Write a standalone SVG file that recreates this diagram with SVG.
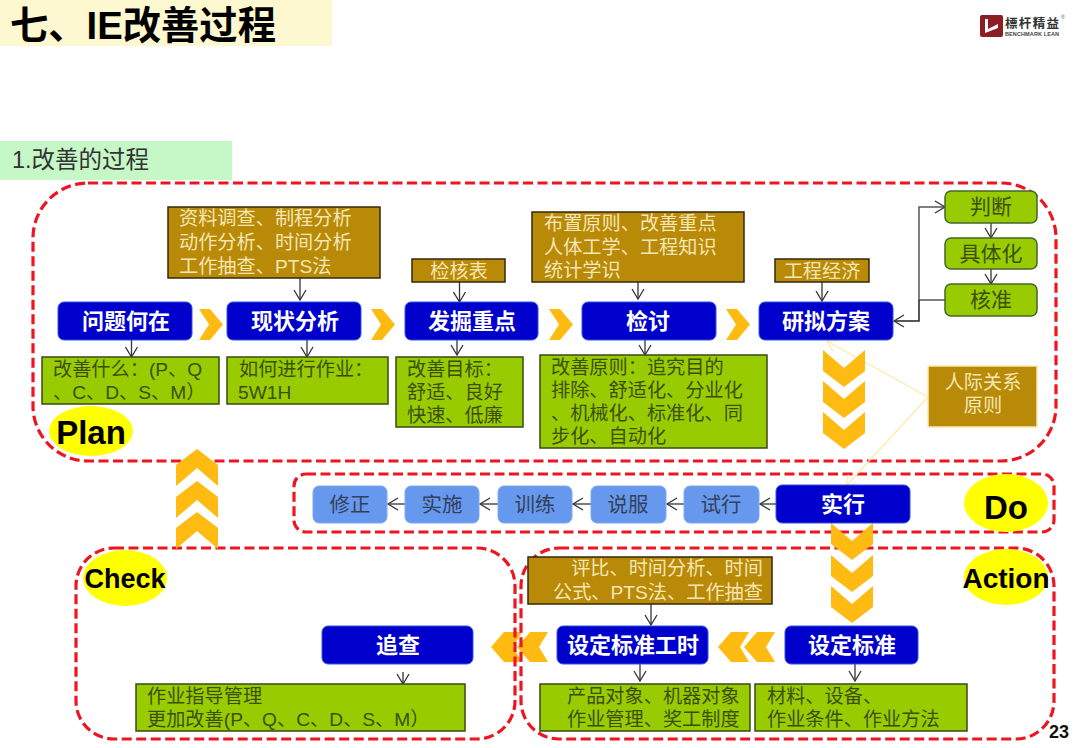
<svg xmlns="http://www.w3.org/2000/svg" xmlns:xlink="http://www.w3.org/1999/xlink" width="1080" height="748" viewBox="0 0 1080 748">
<style>
text{font-family:"Liberation Sans","Noto Sans CJK SC",sans-serif}
.region{fill:none;stroke:#ee1420;stroke-width:3.2;stroke-dasharray:10 4.500}
.blue{fill:#0000cc;stroke:#3355dd;stroke-width:1}
.light{fill:#6699ee;stroke:#7fa8f0;stroke-width:1}
.green{fill:#99cc00;stroke:#3a4a10;stroke-width:1.5}
.greenr{fill:#99cc00;stroke:#46662a;stroke-width:1.5}
.brown{fill:#b88a08;stroke:#33290a;stroke-width:1.5}
.brownp{fill:#b88a08;stroke:#ffe9a8;stroke-width:1.5}
.oval{fill:#ffff00}
.chev{fill:#ffbb11}
.w{fill:#fff;font-size:22px;font-weight:700;text-anchor:middle}
.g{fill:#3c4f05;font-size:19.2px}
.gm{fill:#3c4f05;font-size:21px;text-anchor:middle}
.b{fill:#f5e6b4;font-size:19.2px}
.bm{fill:#f5e6b4;font-size:19.2px;text-anchor:middle}
.lt{fill:#33415c;font-size:20.5px;text-anchor:middle}
.big{fill:#000;font-weight:700;text-anchor:middle}
.c{fill:none;stroke:#333;stroke-width:1.3}
.p{fill:none;stroke:#ffe9a8;stroke-width:1.2}
</style>
<defs>
<marker id="a" markerUnits="userSpaceOnUse" markerWidth="14" markerHeight="14" refX="12" refY="7" orient="auto"><path d="M2 1L12 7L2 13" fill="none" stroke="#333" stroke-width="1.3"/></marker>
<marker id="ap" markerUnits="userSpaceOnUse" markerWidth="14" markerHeight="14" refX="12" refY="7" orient="auto"><path d="M2 1L12 7L2 13" fill="none" stroke="#ffe9a8" stroke-width="1.2"/></marker>
<polygon id="chR" class="chev" points="0,0 11,0 24,15.5 11,31 0,31 10,15.5"/>
<polygon id="chD" class="chev" points="0,0 21,18 42,0 42,21 21,37 0,21"/>
<polygon id="chU" class="chev" points="21,0 42,16 42,37 21,19 0,37 0,16"/>
<polygon id="chL" class="chev" points="13,0 31,0 22,15 31,30 13,30 0,15"/>
</defs>
<rect width="1080" height="748" fill="#fff"/>

<g id="header">
<rect x="0" y="0" width="332" height="46" fill="#fdf8cf"/>
<text x="10" y="39" font-size="38.300" font-weight="700" fill="#000">七、IE改善过程</text>
<rect x="0" y="141" width="232" height="39" fill="#c6f7c6"/>
<text x="12" y="168" font-size="23.500" fill="#333">1.改善的过程</text>
</g>
<g id="logo">
<rect x="980" y="15" width="23" height="22" rx="2" fill="#8b1f24"/>
<path d="M985 19h3v10l10-5v4l-13 5z" fill="#fff"/>
<text x="1005" y="28" font-size="12.500" font-weight="700" fill="#333" textLength="54">標杆精益</text>
<text x="1005" y="35.500" font-size="5.500" font-weight="700" fill="#444" textLength="54">BENCHMARK LEAN</text>
<text x="1061" y="19" font-size="5" fill="#555">®</text>
</g>

<g id="chevrons-back">
<use href="#chL" x="718" y="632"/><use href="#chL" x="744" y="632"/>
<use href="#chL" x="491" y="632"/><use href="#chL" x="517" y="632"/>
</g>

<g id="regions">
<rect class="region" x="33" y="183" width="1023" height="278" rx="55"/>
<rect class="region" x="294" y="474" width="760" height="58" rx="12"/>
<rect class="region" x="76" y="548" width="439" height="191" rx="38"/>
<rect class="region" x="521" y="548" width="533" height="191" rx="38"/>
</g>

<g id="chevrons">
<use href="#chR" x="199" y="309"/><use href="#chR" x="371" y="309"/><use href="#chR" x="549" y="309"/><use href="#chR" x="726" y="309"/>
<line class="p" x1="928" y1="397" x2="827" y2="341" marker-end="url(#ap)"/>
<use href="#chD" x="823" y="350"/><use href="#chD" x="823" y="381"/><use href="#chD" x="823" y="412"/>
<use href="#chD" x="831" y="523"/><use href="#chD" x="831" y="555"/><use href="#chD" x="831" y="586"/>
<use href="#chU" x="176" y="449"/><use href="#chU" x="176" y="481"/><use href="#chU" x="176" y="512"/>
</g>

<g id="connectors">
<line class="c" x1="131.500" y1="340" x2="131.500" y2="357" marker-end="url(#a)"/>
<line class="c" x1="307" y1="340" x2="307" y2="357" marker-end="url(#a)"/>
<line class="c" x1="300" y1="278" x2="300" y2="300" marker-end="url(#a)"/>
<line class="c" x1="459.500" y1="282" x2="459.500" y2="302" marker-end="url(#a)"/>
<line class="c" x1="457" y1="340" x2="457" y2="355" marker-end="url(#a)"/>
<line class="c" x1="638" y1="282" x2="638" y2="299" marker-end="url(#a)"/>
<line class="c" x1="645" y1="340" x2="645" y2="355" marker-end="url(#a)"/>
<line class="c" x1="822" y1="282" x2="822" y2="301" marker-end="url(#a)"/>
<line class="c" x1="991" y1="223" x2="991" y2="238" marker-end="url(#a)"/>
<line class="c" x1="991" y1="269" x2="991" y2="284" marker-end="url(#a)"/>
<path d="M945 300H919V207H945" fill="none" stroke="#555" stroke-width="1.500" marker-end="url(#a)"/>
<path d="M919 300V321H894" fill="none" stroke="#222" stroke-width="1.500" marker-end="url(#a)"/>
<line class="p" x1="928" y1="397" x2="846" y2="486" marker-end="url(#ap)"/>
<line class="c" x1="776" y1="504" x2="760" y2="504" marker-end="url(#a)"/>
<line class="c" x1="684" y1="504" x2="667" y2="504" marker-end="url(#a)"/>
<line class="c" x1="591" y1="504" x2="573" y2="504" marker-end="url(#a)"/>
<line class="c" x1="498" y1="504" x2="480" y2="504" marker-end="url(#a)"/>
<line class="c" x1="405" y1="504" x2="388" y2="504" marker-end="url(#a)"/>
<line class="c" x1="651" y1="604" x2="651" y2="625" marker-end="url(#a)"/>
<line class="c" x1="640" y1="664" x2="640" y2="681" marker-end="url(#a)"/>
<line class="c" x1="855" y1="664" x2="855" y2="681" marker-end="url(#a)"/>
<line class="c" x1="403" y1="672" x2="403" y2="684" marker-end="url(#a)"/>
</g>

<g id="n-wentihezai"><rect class="blue" x="58" y="302" width="134" height="38" rx="6"/><text class="w" x="126" y="329">问题何在</text></g>
<g id="n-xianzhuang"><rect class="blue" x="227" y="302" width="134" height="38" rx="6"/><text class="w" x="295" y="329">现状分析</text></g>
<g id="n-fajue"><rect class="blue" x="405" y="302" width="133" height="38" rx="6"/><text class="w" x="472" y="329">发掘重点</text></g>
<g id="n-jiantao"><rect class="blue" x="582" y="302" width="134" height="38" rx="6"/><text class="w" x="648" y="329">检讨</text></g>
<g id="n-yanni"><rect class="blue" x="759" y="302" width="134" height="38" rx="6"/><text class="w" x="826" y="329">研拟方案</text></g>

<g id="n-ziliao"><rect class="brown" x="168" y="207" width="212" height="71"/><text class="b" x="179" y="225">资料调查、制程分析</text><text class="b" x="179" y="249">动作分析、时间分析</text><text class="b" x="179" y="273">工作抽查、PTS法</text></g>
<g id="n-jianhe"><rect class="brown" x="412" y="259" width="93" height="23"/><text class="bm" x="459" y="278">检核表</text></g>
<g id="n-buzhi"><rect class="brown" x="532" y="212" width="212" height="70"/><text class="b" x="544" y="230">布置原则、改善重点</text><text class="b" x="544" y="254">人体工学、工程知识</text><text class="b" x="544" y="277">统计学识</text></g>
<g id="n-gongcheng"><rect class="brown" x="775" y="259" width="94" height="23"/><text class="bm" x="822" y="278">工程经济</text></g>

<g id="n-gaishan"><rect class="green" x="42" y="357" width="177" height="47"/><text class="g" x="53" y="376">改善什么：(P、Q</text><text class="g" x="53" y="399">、C、D、S、M）</text></g>
<g id="n-ruhe"><rect class="green" x="227" y="357" width="161" height="47"/><text class="g" x="239" y="376">如何进行作业：</text><text class="g" x="238" y="399">5W1H</text></g>
<g id="n-mubiao"><rect class="green" x="396" y="357" width="127" height="70"/><text class="g" x="407" y="376">改善目标：</text><text class="g" x="407" y="399">舒适、良好</text><text class="g" x="407" y="422">快速、低廉</text></g>
<g id="n-yuanze"><rect class="green" x="540" y="355" width="227" height="93"/><text class="g" x="551" y="374">改善原则：追究目的</text><text class="g" x="551" y="397">排除、舒适化、分业化</text><text class="g" x="551" y="420">、机械化、标准化、同</text><text class="g" x="551" y="443">步化、自动化</text></g>

<g id="n-panduan"><rect class="greenr" x="945" y="191" width="92" height="32" rx="6"/><text class="gm" x="991" y="214">判断</text></g>
<g id="n-juti"><rect class="greenr" x="945" y="238" width="92" height="31" rx="6"/><text class="gm" x="991" y="261">具体化</text></g>
<g id="n-hezhun"><rect class="greenr" x="945" y="284" width="92" height="32" rx="6"/><text class="gm" x="991" y="307">核准</text></g>
<g id="n-renji"><rect class="brownp" x="928" y="366" width="109" height="61"/><text class="bm" x="983" y="389">人际关系</text><text class="bm" x="983" y="412">原则</text></g>

<g id="n-xiuzheng"><rect class="light" x="313" y="486" width="74" height="37" rx="6"/><text class="lt" x="350" y="512">修正</text></g>
<g id="n-shishi"><rect class="light" x="405" y="486" width="74" height="37" rx="6"/><text class="lt" x="442" y="512">实施</text></g>
<g id="n-xunlian"><rect class="light" x="498" y="486" width="74" height="37" rx="6"/><text class="lt" x="535" y="512">训练</text></g>
<g id="n-shuofu"><rect class="light" x="591" y="486" width="75" height="37" rx="6"/><text class="lt" x="628" y="512">说服</text></g>
<g id="n-shixing"><rect class="light" x="684" y="486" width="75" height="37" rx="6"/><text class="lt" x="721" y="512">试行</text></g>
<g id="n-shixing2"><rect class="blue" x="776" y="485" width="134" height="38" rx="6"/><text class="w" x="843" y="512">实行</text></g>

<g id="n-pingbi"><rect class="brown" x="528" y="557" width="244" height="47"/><text class="b" x="763" y="575" text-anchor="end">评比、时间分析、时间</text><text class="b" x="763" y="599" text-anchor="end">公式、PTS法、工作抽查</text></g>
<g id="n-gongshi"><rect class="blue" x="557" y="626" width="151" height="38" rx="6"/><text class="w" x="633" y="653">设定标准工时</text></g>
<g id="n-biaozhun"><rect class="blue" x="785" y="626" width="133" height="38" rx="6"/><text class="w" x="852" y="653">设定标准</text></g>
<g id="n-zhuicha"><rect class="blue" x="322" y="626" width="151" height="38" rx="6"/><text class="w" x="398" y="653">追查</text></g>
<g id="n-chanpin"><rect class="green" x="540" y="684" width="210" height="47"/><text class="g" x="567" y="703">产品对象、机器对象</text><text class="g" x="567" y="726">作业管理、奖工制度</text></g>
<g id="n-cailiao"><rect class="green" x="755" y="684" width="212" height="47"/><text class="g" x="767" y="703">材料、设备、</text><text class="g" x="767" y="726">作业条件、作业方法</text></g>
<g id="n-zhidao"><rect class="green" x="136" y="684" width="329" height="47"/><text class="g" x="147" y="703">作业指导管理</text><text class="g" x="147" y="726">更加改善(P、Q、C、D、S、M）</text></g>

<g id="n-plan"><ellipse class="oval" cx="91" cy="431" rx="42" ry="25"/><text class="big" x="91" y="444" font-size="33">Plan</text></g>
<g id="n-do"><ellipse class="oval" cx="1006" cy="503" rx="42" ry="29"/><text class="big" x="1006" y="519" font-size="33">Do</text></g>
<g id="n-check"><ellipse class="oval" cx="125" cy="578" rx="42" ry="28"/><text class="big" x="125" y="588" font-size="27">Check</text></g>
<g id="n-action"><ellipse class="oval" cx="1006" cy="577" rx="42" ry="28"/><text class="big" x="1006" y="588" font-size="28">Action</text></g>
<text x="1049" y="738" font-size="18" font-weight="700" fill="#111">23</text>
</svg>
